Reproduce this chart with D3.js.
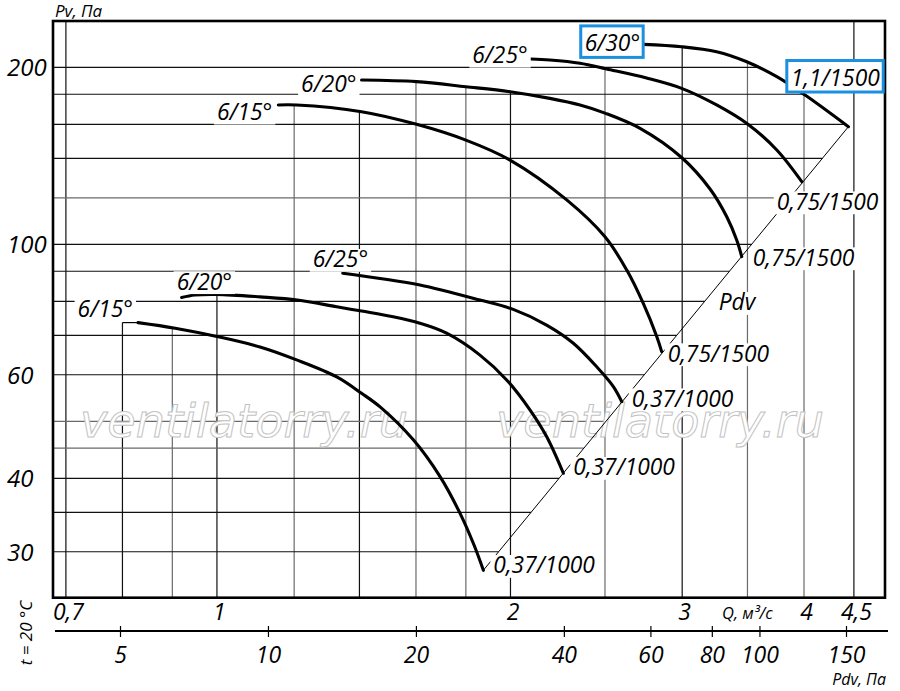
<!DOCTYPE html>
<html>
<head>
<meta charset="utf-8">
<script src="https://cdn.jsdelivr.net/npm/d3@7"></script>
<style>
  html, body { margin: 0; padding: 0; background: #fff; }
  svg { display: block; }
  text { font-family: "Open Sans", "Noto Sans", sans-serif; font-style: italic; }
</style>
</head>
<body>
<svg id="chart" width="900" height="691"></svg>
<script>
// ---------------- data ----------------
const qGrid   = [0.7, 0.8, 0.9, 1, 1.2, 1.4, 1.6, 1.8, 2, 2.5, 3, 3.5, 4, 4.5];
const qDark   = [0.7, 0.8, 1, 1.4, 2, 3, 4.5];
const pvGrid  = [30, 35, 40, 45, 50, 60, 70, 80, 90, 100, 120, 140, 160, 180, 200];
const pvLight = [45, 50, 120];
const qTicks  = [0.7, 1, 2, 3, 4, 4.5];
const pvTicks = [30, 40, 60, 100, 200];
const pdvTicks = [5, 10, 20, 40, 60, 80, 100, 150];

const bladeAngles = ["6/15°", "6/20°", "6/25°", "6/15°", "6/20°", "6/25°", "6/30°"];
const motors = ["0,37/1000", "0,37/1000", "0,37/1000", "0,75/1500", "0,75/1500", "0,75/1500", "1,1/1500"];
const stubQ = 0.8; // flat lead-in of the lowest curve

// Q (m³/s) and Pv (Pa) of each curve
const c1Q = [0.830, 0.906, 1.000, 1.107, 1.207, 1.327, 1.407, 1.470, 1.590, 1.693, 1.775, 1.835, 1.876];
const c1P = [73.6, 72.0, 69.7, 66.9, 63.6, 59.5, 55.8, 52.9, 46.5, 40.3, 34.9, 30.8, 27.9];
const c2Q = [0.920, 0.949, 1.000, 1.107, 1.209, 1.327, 1.407, 1.516, 1.615, 1.720, 1.861, 1.982, 2.094, 2.178, 2.266];
const c2P = [81.2, 82.0, 82.2, 81.4, 80.4, 78.3, 77.0, 75.3, 73.4, 70.6, 64.8, 58.8, 52.3, 47.1, 40.8];
const c3Q = [1.346, 1.470, 1.615, 1.861, 2.013, 2.178, 2.320, 2.452, 2.550, 2.601];
const c3P = [89.3, 87.5, 85.3, 80.4, 77.5, 72.9, 67.9, 61.9, 57.3, 54.0];
const c4Q = [1.156, 1.207, 1.407, 1.602, 1.800, 1.998, 2.284, 2.500, 2.632, 2.736, 2.825, 2.858];
const c4P = [172.6, 172.6, 168.1, 160.0, 150.4, 139.1, 119.0, 103.0, 90.4, 79.4, 69.7, 65.7];
const c5Q = [1.407, 1.602, 1.800, 1.998, 2.195, 2.357, 2.500, 2.716, 2.996, 3.204, 3.333, 3.412, 3.453];
const c5P = [190.3, 189.1, 185.4, 181.8, 177.1, 172.6, 167.2, 157.5, 140.5, 124.2, 111.4, 101.7, 95.3];
const c6Q = [2.098, 2.195, 2.357, 2.510, 2.758, 2.996, 3.254, 3.501, 3.751, 3.979];
const c6P = [206.6, 205.8, 203.2, 198.7, 191.8, 184.2, 172.6, 160.2, 144.7, 127.8];
const c7Q = [2.736, 2.996, 3.254, 3.494, 3.751, 4.010, 4.442];
const c7P = [218.8, 216.8, 212.6, 204.4, 192.8, 179.4, 158.5];

const curveQ = [c1Q, c2Q, c3Q, c4Q, c5Q, c6Q, c7Q];
const curveP = [c1P, c2P, c3P, c4P, c5P, c6P, c7P];

// ---------------- layout ----------------
const plot = { l: 53, r: 885, t: 21, b: 597.7 };
const LABEL_FS = 22.8;
const startLayout = [
  { dx: -5, dy: -6, anchor: "end" },
  { dx: -5, dy: -8, anchor: "start" },
  { dx: -30, dy: -6, anchor: "start" },
  { dx: -6, dy: 15, anchor: "end" },
  { dx: -5, dy: 12, anchor: "end" },
  { dx: -3, dy: 4, anchor: "end" },
  { dx: -3, dy: 7, anchor: "end", boxed: true }
];
const endLayout = [
  { dx: 10, dy: 3 },
  { dx: 10, dy: 2 },
  { dx: 10, dy: 5 },
  { dx: 6, dy: 10 },
  { dx: 11, dy: 9 },
  { dx: -25, dy: 28 },
  { dx: -57.6, dy: -40.7, boxed: true }
];
const BLUE = "#1b8fe0";

const svg = d3.select("#chart");
svg.append("rect").attr("width", 900).attr("height", 691).attr("fill", "#fff");

const x = d3.scaleLog().domain([0.679, 4.843]).range([plot.l, plot.r]);
const y = d3.scaleLog().domain([25.06, 239.8]).range([plot.b, plot.t]);
const pdv = d3.scaleLog().domain([5, 150]).range([120, 846]);

const gGrid = svg.append("g");
const gWater = svg.append("g");
const gBorder = svg.append("g");
const gDiag = svg.append("g");
const gCurves = svg.append("g");
const gLabels = svg.append("g");
const gAxes = svg.append("g");

// ---------------- curves ----------------
const line = d3.line().x(d => x(d[0])).y(d => y(d[1])).curve(d3.curveCatmullRom.alpha(0.5));
const curveData = curveQ.map((qs, i) => qs.map((q, j) => [q, curveP[i][j]]));

const paths = curveData.map(d =>
  gCurves.append("path").attr("d", line(d))
    .attr("fill", "none").attr("stroke", "#000").attr("stroke-width", 3.1)
    .attr("stroke-linecap", "round").attr("stroke-linejoin", "round"));

// thin lead-in of the lowest curve
gCurves.append("line")
  .attr("x1", x(stubQ)).attr("x2", x(c1Q[0]))
  .attr("y1", y(c1P[0])).attr("y2", y(c1P[0]))
  .attr("stroke", "#000").attr("stroke-width", 1.2);

// sample curves (pixel space) for grid clipping
const samples = paths.map(p => {
  const n = p.node(), L = n.getTotalLength(), a = [];
  for (let s = 0; s < L; s += 0.5) { const pt = n.getPointAtLength(s); a.push({ x: pt.x, y: pt.y }); }
  const e = n.getPointAtLength(L); a.push({ x: e.x, y: e.y });
  return a;
});
samples.push([{ x: x(stubQ), y: y(c1P[0]) }, { x: x(c1Q[0]), y: y(c1P[0]) }]);

function crossAt(arr, key, val, other) {
  for (let i = 0; i < arr.length - 1; i++) {
    const a = arr[i], b = arr[i + 1];
    if ((a[key] - val) * (b[key] - val) <= 0 && a[key] !== b[key]) {
      return a[other] + (val - a[key]) / (b[key] - a[key]) * (b[other] - a[other]);
    }
  }
  return null;
}

const e1 = { x: x(c1Q[c1Q.length - 1]), y: y(c1P[c1P.length - 1]) };
const e7 = { x: x(c7Q[c7Q.length - 1]), y: y(c7P[c7P.length - 1]) };
const diagX = Y => e7.x + (Y - e7.y) * (e1.x - e7.x) / (e1.y - e7.y);

function topAt(X) {
  let best = null;
  samples.forEach(s => {
    const v = crossAt(s, "x", X, "y");
    if (v !== null && (best === null || v < best)) best = v;
  });
  return best === null ? plot.t : best;
}
function rightAt(Y) {
  const s7 = samples[6];
  if (Y < s7[0].y) return null;
  if (Y <= e7.y) return crossAt(s7, "y", Y, "x");
  return diagX(Y);
}

// ---------------- grid ----------------
qGrid.forEach(q => {
  const X = x(q);
  gGrid.append("line").attr("x1", X).attr("x2", X)
    .attr("y1", topAt(X)).attr("y2", plot.b)
    .attr("stroke", qDark.includes(q) ? "#111" : "#6a6a6a").attr("stroke-width", 1.2);
});
pvGrid.forEach(p => {
  const Y = y(p);
  const xe = rightAt(Y);
  if (xe === null) return;
  gGrid.append("line").attr("x1", plot.l).attr("x2", Math.min(xe, plot.r))
    .attr("y1", Y).attr("y2", Y)
    .attr("stroke", pvLight.includes(p) ? "#6a6a6a" : "#111").attr("stroke-width", 1.2);
});

// watermark
[80, 496].forEach(wx => {
  gWater.append("text").attr("x", wx).attr("y", 437)
    .attr("textLength", 328).attr("lengthAdjust", "spacingAndGlyphs")
    .style("font-family", "'DejaVu Sans', sans-serif").style("font-style", "oblique")
    .style("font-size", "46px")
    .attr("fill", "#fff").attr("stroke", "#c2c2c2").attr("stroke-width", 1)
    .text("ventilatorry.ru");
});

// border
gBorder.append("rect").attr("x", plot.l).attr("y", plot.t)
  .attr("width", plot.r - plot.l).attr("height", plot.b - plot.t)
  .attr("fill", "none").attr("stroke", "#000").attr("stroke-width", 2.6);

// Pdv line through curve ends
gDiag.append("line").attr("x1", e1.x).attr("y1", e1.y).attr("x2", e7.x).attr("y2", e7.y)
  .attr("stroke", "#000").attr("stroke-width", 1);

// ---------------- labels ----------------
function addLabel(tx, ty, txt, anchor, boxed) {
  const g = gLabels.append("g");
  const rect = g.append("rect");
  const t = g.append("text").attr("x", tx).attr("y", ty)
    .attr("text-anchor", anchor).style("font-size", LABEL_FS + "px").attr("fill", "#000").text(txt);
  const b = t.node().getBBox();
  if (boxed) {
    rect.attr("x", b.x - 4).attr("y", ty - 25.5).attr("width", b.width + 7).attr("height", 31.5)
      .attr("fill", "#fff").attr("stroke", BLUE).attr("stroke-width", 3);
  } else {
    rect.attr("x", b.x - 3).attr("y", ty - 0.8 * LABEL_FS).attr("width", b.width + 6).attr("height", LABEL_FS)
      .attr("fill", "#fff");
  }
}
curveData.forEach((d, i) => {
  const s = d[0], e = d[d.length - 1];
  const sl = startLayout[i], el = endLayout[i];
  addLabel(x(s[0]) + sl.dx, y(s[1]) + sl.dy, bladeAngles[i], sl.anchor, sl.boxed);
  addLabel(x(e[0]) + el.dx, y(e[1]) + el.dy, motors[i], "start", el.boxed);
});
// "Pdv" beside the diagonal
{
  const Y = y(80);
  addLabel(diagX(Y) + 14, Y + 9, "Pdv", "start", false);
}

// ---------------- axes ----------------
const yAxis = gAxes.append("g")
  .call(d3.axisLeft(y).tickValues(pvTicks).tickSize(0).tickFormat(d => String(d)));
yAxis.select(".domain").remove();
yAxis.selectAll("text").attr("x", 7).attr("dy", 8.5)
  .attr("text-anchor", "start").style("font-size", "24px").attr("fill", "#000")
  .style("font-family", "'Open Sans', sans-serif").style("font-style", "italic");

const qAxis = gAxes.append("g").attr("transform", `translate(0,${plot.b})`)
  .call(d3.axisBottom(x).tickValues(qTicks).tickSize(0).tickFormat(d => String(d).replace(".", ",")));
qAxis.select(".domain").remove();
qAxis.selectAll("text").attr("y", 22.5).attr("dy", null).attr("dx", 2)
  .style("font-size", "23px").attr("fill", "#000")
  .style("font-family", "'Open Sans', sans-serif").style("font-style", "italic");

const PDV_Y = 631;
gAxes.append("line").attr("x1", 55).attr("x2", 888).attr("y1", PDV_Y).attr("y2", PDV_Y)
  .attr("stroke", "#000").attr("stroke-width", 2.2);
const pAxis = gAxes.append("g").attr("transform", `translate(0,${PDV_Y})`)
  .call(d3.axisBottom(pdv).tickValues(pdvTicks).tickSize(6).tickFormat(d => String(d)));
pAxis.select(".domain").remove();
pAxis.selectAll(".tick line").attr("y1", -5).attr("y2", 6).attr("stroke", "#000").attr("stroke-width", 1.2);
pAxis.selectAll("text").attr("y", 32).attr("dy", null)
  .style("font-size", "23px").attr("fill", "#000")
  .style("font-family", "'Open Sans', sans-serif").style("font-style", "italic");

// titles
gAxes.append("text").attr("x", 55).attr("y", 17).style("font-size", "17px").text("Pv, Па");
gAxes.append("text").attr("x", 722).attr("y", 619).style("font-size", "16.5px").text("Q, м³/с");
gAxes.append("text").attr("x", 886).attr("y", 685).attr("text-anchor", "end").style("font-size", "16px").text("Pdv, Па");
gAxes.append("text").attr("transform", "translate(32,633) rotate(-90)")
  .attr("text-anchor", "middle").style("font-size", "17px").text("t = 20 °C");
</script>
</body>
</html>
